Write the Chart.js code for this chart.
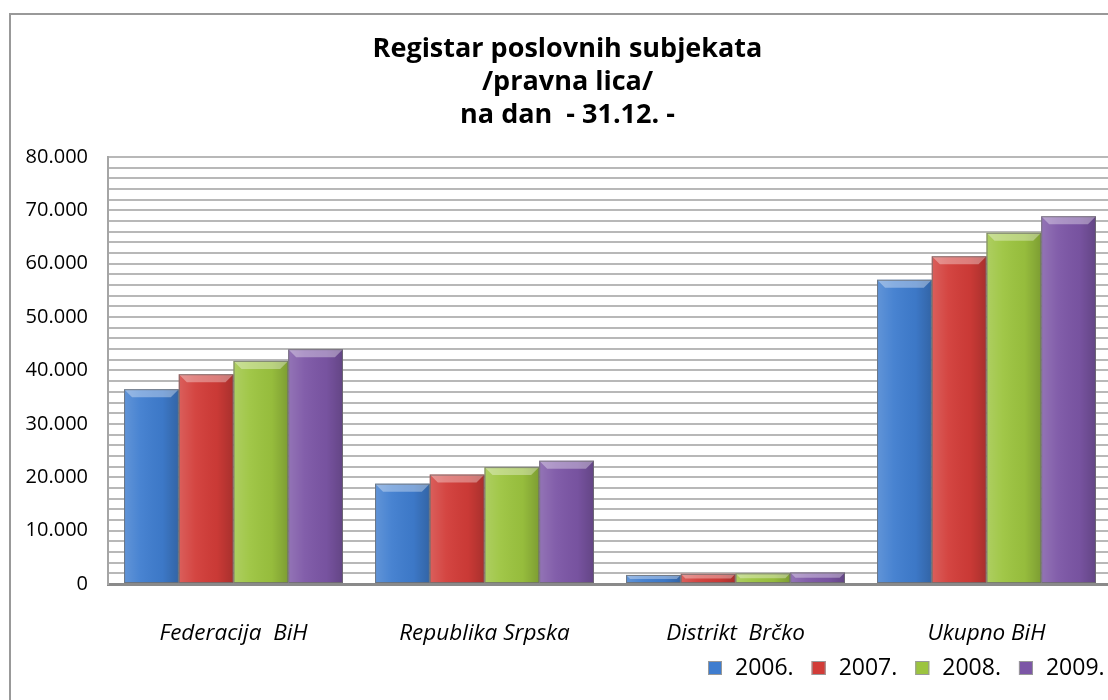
<!DOCTYPE html>
<html>
<head>
<meta charset="utf-8">
<script src="https://cdn.jsdelivr.net/npm/chart.js@4"></script>
<style>
  body { margin: 0; overflow: hidden; background: #fff; }
  #frame { position: absolute; left: 9px; top: 13px; width: 1300px; height: 900px; border-left: 2px solid #999; border-top: 2px solid #999; }
  #wrap { position: absolute; left: 0; top: 0; width: 1135px; height: 700px; }
</style>
</head>
<body>
<div id="frame"></div>
<div id="wrap"><canvas id="chart" width="1135" height="700"></canvas></div>
<script>
// données
const categories = ['Federacija  BiH', 'Republika Srpska', 'Distrikt  Brčko', 'Ukupno BiH'];
const years = ['2006.', '2007.', '2008.', '2009.'];
const v2006 = [36500, 18800, 1700, 57000];
const v2007 = [39300, 20500, 1900, 61400];
const v2008 = [41800, 21900, 2000, 65800];
const v2009 = [44000, 23100, 2150, 68900];
const titleLines = ['Registar poslovnih subjekata', '/pravna lica/', 'na dan  - 31.12. -'];

const colors = ['#3f7dcf', '#d23c38', '#9cc43f', '#7c56a6'];
const FONT = "'Open Sans'";

// petit effet 3D sur les barres
const bevel = {
  id: 'bevel',
  afterDatasetsDraw(chart) {
    const ctx = chart.ctx;
    chart.data.datasets.forEach((ds, i) => {
      chart.getDatasetMeta(i).data.forEach(bar => {
        const p = bar.getProps(['x', 'y', 'base', 'width'], true);
        const l = p.x - p.width / 2, r = p.x + p.width / 2;
        const h = p.base - p.y;
        ctx.save();
        const g = ctx.createLinearGradient(l, 0, r, 0);
        g.addColorStop(0, 'rgba(255,255,255,0.18)');
        g.addColorStop(0.3, 'rgba(255,255,255,0.05)');
        g.addColorStop(0.7, 'rgba(0,0,0,0.04)');
        g.addColorStop(1, 'rgba(0,0,0,0.2)');
        ctx.fillStyle = g;
        ctx.fillRect(l, p.y, p.width, h);
        const b = Math.min(8, h / 2);
        ctx.beginPath();
        ctx.moveTo(l, p.y);
        ctx.lineTo(r, p.y);
        ctx.lineTo(r - b, p.y + b);
        ctx.lineTo(l + b, p.y + b);
        ctx.closePath();
        ctx.fillStyle = 'rgba(255,255,255,0.35)';
        ctx.fill();
        ctx.strokeStyle = 'rgba(110,110,110,0.8)';
        ctx.lineWidth = 1;
        ctx.strokeRect(l + 0.5, p.y + 0.5, p.width - 1, h - 1);
        ctx.restore();
      });
    });
  }
};

// légende en bas à droite (comme dans Excel)
const yearLegend = {
  id: 'yearLegend',
  afterDraw(chart) {
    const ctx = chart.ctx;
    ctx.save();
    ctx.font = '23px ' + FONT;
    ctx.textBaseline = 'middle';
    let x = 708;
    const y = 668;
    chart.data.datasets.forEach((ds, i) => {
      ctx.fillStyle = colors[i];
      ctx.fillRect(x, y - 7, 14, 14);
      ctx.strokeStyle = '#999';
      ctx.lineWidth = 1;
      ctx.strokeRect(x + 0.5, y - 6.5, 13, 13);
      ctx.fillStyle = '#000';
      ctx.fillText(ds.label, x + 27, y);
      x += 27 + ctx.measureText(ds.label).width + 18;
    });
    ctx.restore();
  }
};

const fmt = v => v === 0 ? '0' : String(v / 1000) + '.000';

new Chart(document.getElementById('chart'), {
  type: 'bar',
  data: {
    labels: categories,
    datasets: [v2006, v2007, v2008, v2009].map((d, i) => ({
      label: years[i],
      data: d,
      backgroundColor: colors[i],
      borderWidth: 0,
      barPercentage: 1,
      categoryPercentage: 0.872
    }))
  },
  options: {
    responsive: false,
    animation: false,
    devicePixelRatio: 1,
    layout: { padding: { left: 23, right: 23, top: 21, bottom: 0 } },
    plugins: {
      title: {
        display: true,
        text: titleLines,
        color: '#000',
        font: { family: FONT, size: 27, weight: 'bold', lineHeight: 1.222 },
        padding: { top: 12, bottom: 25 }
      },
      legend: { display: false },
      tooltip: { enabled: false }
    },
    scales: {
      x: {
        afterFit: s => { s.height = 116; },
        grid: { display: false },
        border: { display: true, color: '#8a8a8a', width: 3 },
        ticks: { color: '#000', padding: 28, font: { family: FONT, size: 22.5, style: 'italic' } }
      },
      y: {
        min: 0,
        max: 80000,
        afterFit: s => { s.width = 85; },
        grid: { color: '#b8b8b8', lineWidth: 2, drawTicks: false },
        border: { display: true, color: '#a5a5a5', width: 2 },
        ticks: {
          stepSize: 2000,
          autoSkip: false,
          padding: 20,
          color: '#000',
          font: { family: FONT, size: 20 },
          callback: v => v % 10000 === 0 ? fmt(v) : ''
        }
      }
    }
  },
  plugins: [bevel, yearLegend]
});
</script>
</body>
</html>
